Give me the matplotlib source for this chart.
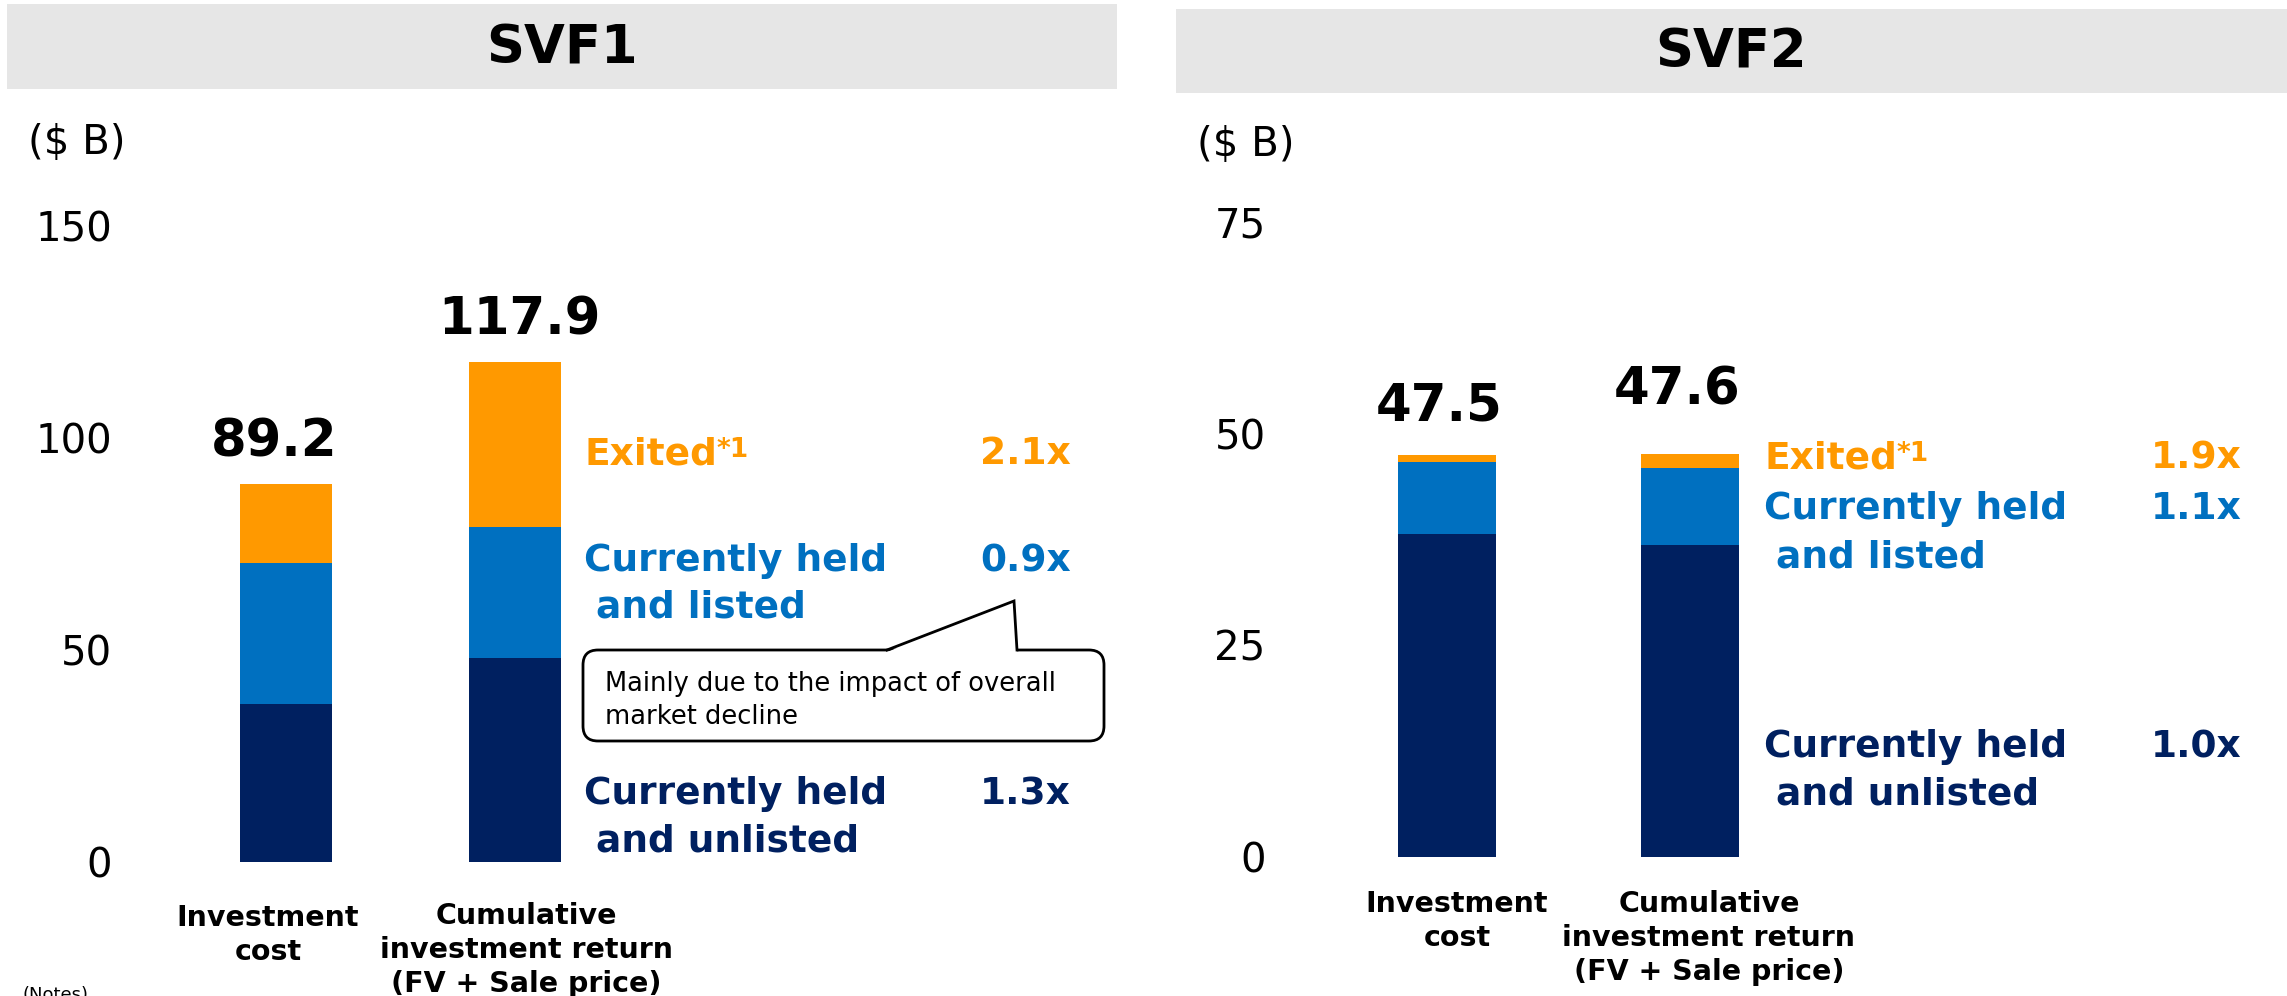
"""
SVF1 / SVF2 investment cost vs cumulative investment return, stacked bars.
"""
import matplotlib
matplotlib.use('Agg')
import matplotlib.pyplot as plt
from matplotlib.patches import Rectangle, FancyBboxPatch, Polygon
import numpy as np

plt.rcParams['font.family'] = ['DejaVu Sans']

# --- data -----------------------------------------------------------------
categories = ["Investment\ncost", "Cumulative\ninvestment return\n(FV + Sale price)"]
segment_names = ["Currently held\n and unlisted", "Currently held\n and listed", "Exited"]

svf1_unlisted = [37.2, 48.1]
svf1_listed = [33.4, 30.8]
svf1_exited = [18.6, 39.0]
svf1_totals = [89.2, 117.9]
svf1_multiples = ["1.3x", "0.9x", "2.1x"]
svf1_ticks = [0, 50, 100, 150]

svf2_unlisted = [38.2, 36.9]
svf2_listed = [8.45, 9.1]
svf2_exited = [0.85, 1.6]
svf2_totals = [47.5, 47.6]
svf2_multiples = ["1.0x", "1.1x", "1.9x"]
svf2_ticks = [0, 25, 50, 75]

note_text = "Mainly due to the impact of overall\nmarket decline"

# --- style ------------------------------------------------------------------
NAVY = '#002060'
BLUE = '#0070C0'
ORANGE = '#FF9900'
GRAY = '#E6E6E6'
colors = [NAVY, BLUE, ORANGE]

W, H = 2287, 996
fig = plt.figure(figsize=(W / 100, H / 100), dpi=100)


def px_axes(left, right, y0, ytop):
    """Axes placed by pixel edges (y measured from top of image)."""
    return fig.add_axes([left / W, 1 - y0 / H, (right - left) / W, (y0 - ytop) / H])


def draw_panel(ax, unlisted, listed, exited, totals, ticks, xlim, label_offsets, tick_pad):
    x = np.arange(len(categories))
    unlisted = np.array(unlisted)
    listed = np.array(listed)
    exited = np.array(exited)
    ax.bar(x, unlisted, width=0.4, color=colors[0])
    ax.bar(x, listed, width=0.4, bottom=unlisted, color=colors[1])
    ax.bar(x, exited, width=0.4, bottom=unlisted + listed, color=colors[2])

    for i, tot in enumerate(totals):
        dx, dy = label_offsets[i]
        ax.annotate(f"{tot:.1f}", xy=(x[i], tot), xytext=(dx / 1.389, dy / 1.389),
                    textcoords='offset points', ha='center', va='baseline',
                    fontsize=37, fontweight='bold', color='black', annotation_clip=False)

    ax.set_xlim(*xlim)
    ax.set_ylim(ticks[0], ticks[-1])
    ax.set_yticks(ticks)
    ax.set_yticklabels([str(t) for t in ticks], fontsize=29)
    ax.tick_params(axis='y', length=0, pad=tick_pad)
    ax.set_xticks([])
    for s in ax.spines.values():
        s.set_visible(False)
    ax.patch.set_alpha(0)


# SVF1 bars: centers at px 286 / 515, y=0 at px 862, y=150 at px 226
ax1 = px_axes(130, 1110, 862, 226)
draw_panel(ax1, svf1_unlisted, svf1_listed, svf1_exited, svf1_totals, svf1_ticks,
           ((130 - 286) / 229, (1110 - 286) / 229), [(-12, 27), (4, 28)], 13)

# SVF2 bars: centers at px 1447 / 1690, y=0 at px 857, y=75 at px 222
ax2 = px_axes(1285, 2280, 857, 222)
draw_panel(ax2, svf2_unlisted, svf2_listed, svf2_exited, svf2_totals, svf2_ticks,
           ((1285 - 1447) / 243, (2280 - 1447) / 243), [(-8, 34), (-13, 49)], 14)

# overlay in pixel coordinates for headers, labels and the callout
ov = fig.add_axes([0, 0, 1, 1], zorder=5)
ov.set_xlim(0, W)
ov.set_ylim(H, 0)
ov.axis('off')


def put_lines(x, baselines, text, indent=0, **kw):
    for yb, line in zip(baselines, text.split('\n')):
        xx = x + (indent if line.startswith(' ') else 0)
        ov.text(xx, yb, line.strip(), va='baseline', **kw)


# headers
for (x0, x1, y0, y1), name, cx, cy in [((7, 1117, 4, 89), "SVF1", 562, 48),
                                       ((1176, 2287, 9, 93), "SVF2", 1731, 52)]:
    ov.add_patch(Rectangle((x0, y0), x1 - x0, y1 - y0, facecolor=GRAY, edgecolor='none'))
    ov.text(cx, cy, name, ha='center', va='center', fontsize=38, fontweight='bold')

# units
ov.text(28, 143, "($ B)", ha='left', va='center', fontsize=29)
ov.text(1197, 145, "($ B)", ha='left', va='center', fontsize=29)

# segment legends and multiples
seg_fs = 27
panels = [
    # (left x, right x of multiple, baselines for [unlisted, listed, exited], multiples)
    (584, 1071, [(804, 851), (571, 617), (464,)], svf1_multiples),
    (1764, 2242, [(757, 804), (519, 567), (468,)], svf2_multiples),
]
for left, right, bls, mults in panels:
    for k in range(3):
        if k == 2:
            t = ov.text(left, bls[k][0], "Exited", va='baseline', ha='left',
                        fontsize=seg_fs, fontweight='bold', color=colors[k])
            ov.annotate("*1", xy=(1.0, 0.97), xycoords=t, va='top', ha='left',
                        fontsize=19, fontweight='bold', color=colors[k])
        else:
            put_lines(left, bls[k], segment_names[k], indent=12, ha='left',
                      fontsize=seg_fs, fontweight='bold', color=colors[k])
        ov.text(right, bls[k][0], mults[k], va='baseline', ha='right',
                fontsize=seg_fs, fontweight='bold', color=colors[k])

# category labels
cat_fs = 20.5
for cx, bl in [(268, 926), (1457, 912)]:
    put_lines(cx, [bl, bl + 34], categories[0], ha='center', fontsize=cat_fs, fontweight='bold')
for cx, bl in [(526, 924), (1709, 912)]:
    put_lines(cx, [bl, bl + 34, bl + 68], categories[1], ha='center', fontsize=cat_fs,
              fontweight='bold')

# callout box with pointer
ov.add_patch(FancyBboxPatch((583, 650), 521, 91, boxstyle="round,pad=0,rounding_size=15",
                            facecolor='white', edgecolor='black', linewidth=2, zorder=6))
ov.add_patch(Polygon([(887, 652), (1014, 601), (1017, 652)], closed=True,
                     facecolor='white', edgecolor='none', zorder=7))
ov.plot([887, 1014, 1017], [650, 601, 650], color='black', linewidth=2, zorder=8,
        solid_joinstyle='miter')
put_lines(605, [691, 724], note_text, ha='left', fontsize=18.5, zorder=9)

# notes (cut at the bottom edge, as in the source slide)
ov.text(23, 986, "(Notes)", ha='left', va='top', fontsize=13)

fig.savefig('out.png', dpi=100)
